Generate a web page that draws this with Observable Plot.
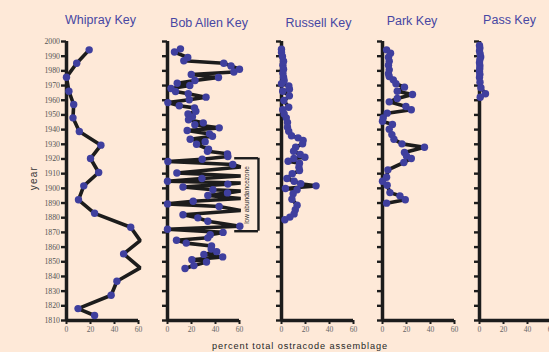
<!DOCTYPE html>
<html><head><meta charset="utf-8">
<script src="https://cdn.jsdelivr.net/npm/d3@7"></script>
<script src="https://cdn.jsdelivr.net/npm/@observablehq/plot@0.6"></script>
<style>
html,body{margin:0;padding:0;background:#fee9d8;}
#chart{position:relative;width:549px;height:352px;background:#fee9d8;overflow:hidden;font-family:"Liberation Sans",Arial,sans-serif;}
#chart svg{position:absolute;top:0;}
.title{position:absolute;font-size:12.5px;line-height:14px;color:#4747a3;white-space:nowrap;transform:translateX(-50%);}
.ylab{position:absolute;left:33px;top:178px;font-size:10px;letter-spacing:1.2px;color:#333;transform:translate(-50%,-50%) rotate(-90deg);white-space:nowrap;}
.xlab{position:absolute;left:300px;top:341px;font-size:9.2px;letter-spacing:0.9px;color:#262626;transform:translateX(-50%);white-space:nowrap;}
</style></head><body><div id="chart"></div>
<script>
// ---- data ----
const yearTicks = [1810,1820,1830,1840,1850,1860,1870,1880,1890,1900,1910,1920,1930,1940,1950,1960,1970,1980,1990,2000];
const pctTicks = [0,20,40,60];

const whiprayYear = [1994.3,1985.2,1975.7,1966.1,1957.1,1948.0,1938.7,1929.4,1920.3,1910.8,1901.7,1892.2,1883.0,1873.5,1864.4,1855.4,1845.8,1836.7,1827.2,1818.1,1813.4];
const whiprayPct  = [18.9,8.5,0,2,6,5.4,10.7,28.7,20,26.8,14.4,10,23.4,53.5,61.4,47.6,61.4,42,37.2,9.6,23.4];
const whiprayMarker = [1,1,1,1,1,1,1,1,1,1,1,1,1,1,0,1,0,1,1,1,1];

const bobAllenYear = [1995.0,1992.8,1989.1,1986.9,1985.2,1983.4,1981.1,1979.2,1977.5,1975.5,1973.4,1971.6,1970.0,1968.0,1965.9,1964.4,1962.1,1960.3,1958.4,1956.2,1954.8,1952.5,1950.7,1948.7,1946.7,1944.6,1943.3,1941.2,1939.4,1937.1,1935.5,1933.4,1931.7,1930.0,1926.6,1925.3,1923.5,1921.7,1919.8,1918.3,1916.2,1914.5,1910.4,1908.4,1906.7,1904.8,1903.6,1902.9,1900.9,1899.0,1898.2,1896.9,1895.1,1893.1,1891.2,1889.4,1887.6,1884.9,1882.0,1879.9,1877.6,1874.2,1872.1,1870.0,1868.4,1866.3,1864.6,1862.7,1860.7,1858.7,1856.9,1855.0,1853.3,1851.4,1849.8,1847.4,1845.4];
const bobAllenPct  = [10.8,5.8,16.9,13.6,46.9,52.9,60,55.3,19.8,42.5,22.9,8.1,18.6,2.9,6.7,17.3,32.1,18.1,0.3,9.8,22.5,23.6,17.1,20.8,17.5,29.8,22.8,43.1,16.4,35,37.5,18.9,31.4,24.2,34.2,33.3,50,50.3,28.9,0.3,54.4,61,7.8,61,28.7,0,61,50.3,12.9,37.8,61,50,33.6,61,21.4,0,43,61,12.9,25.3,33.6,60.3,0,46.3,35.6,33.6,7.5,15.6,36.7,36.4,41,30.3,46,20.3,32.5,22,14.6];
const bobAllenMarker = [1,1,1,1,1,1,1,1,1,1,1,1,1,1,1,1,1,1,1,1,1,1,1,1,1,1,1,1,1,1,1,1,1,1,1,1,1,1,1,1,1,0,1,0,1,1,0,1,1,1,0,1,1,0,1,1,1,0,1,1,1,1,1,1,1,1,1,1,1,1,1,1,1,1,1,1,1];

const russellYear = [1994.8,1992.5,1989.8,1986.6,1983.9,1981.1,1978.4,1975.7,1973.4,1971.2,1969.8,1967.5,1966.1,1963.0,1959.8,1955.2,1953.5,1950.7,1948.0,1944.8,1941.6,1938.9,1935.8,1934.4,1932.6,1930.3,1928.0,1925.3,1923.0,1921.2,1920.3,1918.5,1917.1,1914.4,1912.1,1909.9,1906.7,1904.8,1903.1,1901.7,1899.9,1899.0,1896.3,1892.6,1888.5,1885.4,1882.6,1880.4,1878.6];
const russellPct  = [0,0,0.8,1.7,1.2,1.7,1.2,1.7,2.2,0,6.1,6.6,1,6.6,2,6,1,2.2,4,5,5,6,8.3,13.8,18,17.6,11.8,10.1,15.6,19.5,10.3,5.5,15,14.5,15,9,4.5,10.5,16,28.8,3.3,13,9.7,8.7,13,11.5,10.5,7,2.8];

const parkYear = [1994.3,1992.0,1989.3,1986.6,1983.9,1980.7,1978.0,1976.2,1973.9,1971.2,1968.9,1966.1,1963.9,1961.2,1958.9,1955.7,1953.5,1951.2,1948.0,1945.7,1943.5,1940.3,1936.6,1933.4,1930.3,1928.0,1924.4,1922.1,1920.3,1917.6,1912.6,1907.6,1904.8,1902.1,1897.1,1894.9,1892.2,1889.9];
const parkPct  = [3.4,6.7,5,5.6,5,5.6,5,5.6,9,11.2,18.3,12.3,25,12.3,5.6,19.5,24,3.9,0.6,0,8.3,5.6,7.8,9.5,16.2,35,18.3,20,24,17.8,4.5,3.4,0,3.9,6.2,14.5,19,3.4];

const passYear = [1997.3,1995.5,1993.5,1991.5,1989.5,1987.5,1985.5,1983.5,1981.5,1979.5,1977.5,1975.5,1972.3,1968.5,1964.4,1962.0];
const passPct  = [0,0.3,0,0.5,1,0.3,0,0.3,0.2,0,0.3,0,0.4,1.2,5,0.6];

const lowZone = [1870.8, 1920.5];
const lowZoneLabel = "low abundancezone";

// ---- build ----
const rowsOf = (years, pct, marker) => years.map((y, i) => ({year: y, pct: pct[i], marker: marker ? marker[i] : 1}));
const ink = "#1c1c1c";
const chart = document.getElementById("chart");

function panel(rows, axisX, showLabels, extra = []) {
  const ml = 40, mr = 40, w = 72;
  const svg = Plot.plot({
    width: ml + w + mr, height: 352,
    marginLeft: ml, marginRight: mr, marginTop: 41, marginBottom: 32,
    x: {domain: [0, 60]},
    y: {domain: [1810, 2000]},
    style: {background: "transparent", overflow: "visible"},
    marks: [
      Plot.axisY({ticks: yearTicks, tickSize: 5, strokeWidth: 2.4, stroke: ink, tickPadding: 1.5,
        tickFormat: showLabels ? (d => String(d)) : (() => ""), fontSize: 7.8,
        fontFamily: "'Liberation Serif', serif", fill: "#555", label: null}),
      Plot.axisX({ticks: pctTicks, tickSize: 4, strokeWidth: 2, stroke: ink, tickPadding: 2,
        fontSize: 7.6, fontFamily: "'Liberation Serif', serif", fill: "#666", label: null}),
      Plot.ruleX([0], {y1: 1810, y2: 2000, stroke: ink, strokeWidth: 3.5}),
      Plot.ruleY([1810], {x1: 0, x2: 60, stroke: ink, strokeWidth: 3.5}),
      Plot.line(rows, {x: "pct", y: "year", stroke: ink, strokeWidth: 3.6, strokeLinejoin: "miter", curve: "linear"}),
      Plot.dot(rows.filter(d => d.marker), {x: "pct", y: "year", r: 3.7, fill: "#3f3f9e"}),
      ...extra
    ]
  });
  svg.style.left = (axisX - ml) + "px";
  chart.appendChild(svg);
}

panel(rowsOf(whiprayYear, whiprayPct, whiprayMarker), 66, true);
panel(rowsOf(bobAllenYear, bobAllenPct, bobAllenMarker), 167, false, [
  Plot.ruleX([75.8], {y1: lowZone[0], y2: lowZone[1], stroke: ink, strokeWidth: 2.4}),
  Plot.ruleY(lowZone, {y: d => d, x1: 56, x2: 75.8, stroke: ink, strokeWidth: 2.4}),
  Plot.text([lowZoneLabel], {x: 66.5, y: 1895.5, text: d => d, rotate: -90, fontSize: 6.5, fill: "#333", fontFamily: "'Liberation Sans', sans-serif"})
]);
panel(rowsOf(russellYear, russellPct), 280.7, false);
panel(rowsOf(parkYear, parkPct), 382.3, false);
panel(rowsOf(passYear, passPct), 479.3, false);

const titles = [["Whipray Key", 100.5, 13], ["Bob Allen Key", 209, 16], ["Russell Key", 318.5, 16], ["Park Key", 412, 14], ["Pass Key", 509.5, 13]];
for (const [t, x, top] of titles) {
  const d = document.createElement("div");
  d.className = "title"; d.textContent = t;
  d.style.left = x + "px"; d.style.top = top + "px";
  chart.appendChild(d);
}
const yl = document.createElement("div"); yl.className = "ylab"; yl.textContent = "year"; chart.appendChild(yl);
const xl = document.createElement("div"); xl.className = "xlab"; xl.textContent = "percent total ostracode assemblage"; chart.appendChild(xl);
</script></body></html>
